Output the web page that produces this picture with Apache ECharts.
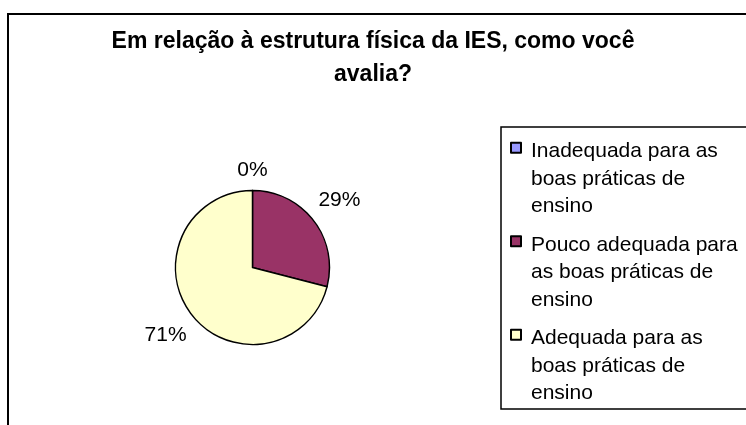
<!DOCTYPE html>
<html>
<head>
<meta charset="utf-8">
<script src="https://cdn.jsdelivr.net/npm/echarts@6/dist/echarts.min.js"></script>
<style>
html, body { margin: 0; padding: 0; background: #fff; }
#chart { width: 746px; height: 425px; }
</style>
</head>
<body>
<div id="chart"></div>
<script>
var categories = [
    'Inadequada para as boas práticas de ensino',
    'Pouco adequada para as boas práticas de ensino',
    'Adequada para as boas práticas de ensino'
];
var values = [0, 29, 71];
var sliceColors = ['#9999FF', '#993366', '#FFFFCC'];
var titleText = 'Em relação à estrutura física da IES, como você\navalia?';

var myChart = echarts.init(document.getElementById('chart'));

var pieData = [];
for (var i = 0; i < categories.length; i++) {
    pieData.push({
        name: categories[i],
        value: values[i],
        itemStyle: { color: sliceColors[i] }
    });
}

// distance between the pie edge and the percent labels
var labelGap = 10;

option = {
    backgroundColor: '#fff',
    animation: false,
    title: {
        text: titleText,
        left: 'center',
        top: 25.5,
        padding: [0, 0, 0, 10],
        textStyle: {
            color: '#000',
            fontFamily: 'Liberation Sans, Arial, sans-serif',
            fontWeight: 'bold',
            fontSize: 23,
            lineHeight: 33
        }
    },
    legend: {
        orient: 'vertical',
        left: 501,
        top: 127,
        padding: [9.75, 30, 0.75, 9],
        itemGap: 9,
        itemWidth: 15,
        itemHeight: 82.5,
        icon: 'path://M0,5h10v10h-10z M15,0 M15,82.5',
        borderColor: '#000',
        borderWidth: 1.5,
        selectedMode: false,
        data: categories,
        textStyle: {
            color: '#000',
            fontFamily: 'Liberation Sans, Arial, sans-serif',
            fontSize: 21,
            lineHeight: 27.5,
            width: 215,
            overflow: 'break'
        }
    },
    graphic: [{
        type: 'rect',
        shape: { x: 8, y: 14, width: 800, height: 500 },
        style: { fill: null, stroke: '#000', lineWidth: 2 },
        silent: true
    }],
    series: [{
        type: 'pie',
        center: [252.5, 267.5],
        radius: 77,
        startAngle: 90,
        clockwise: true,
        silent: true,
        avoidLabelOverlap: false,
        itemStyle: {
            borderColor: '#000',
            borderWidth: 1.5
        },
        label: {
            show: true,
            position: 'outside',
            formatter: '{d}%',
            color: '#000',
            fontFamily: 'Liberation Sans, Arial, sans-serif',
            fontSize: 21
        },
        labelLine: {
            show: true,
            length: 10,
            length2: 0,
            lineStyle: { opacity: 0 }
        },
        labelLayout: function (p) {
            var pts = p.labelLinePoints;
            if (!pts) {
                return {};
            }
            var ux = pts[1][0] - pts[0][0];
            var uy = pts[1][1] - pts[0][1];
            var len = Math.sqrt(ux * ux + uy * uy) || 1;
            ux /= len;
            uy /= len;
            var d = labelGap + p.labelRect.width / 2 * Math.abs(ux) + p.labelRect.height / 2 * Math.abs(uy);
            return {
                x: pts[0][0] + ux * d,
                y: pts[0][1] + uy * d,
                align: 'center',
                verticalAlign: 'middle'
            };
        },
        data: pieData
    }]
};

myChart.setOption(option);
</script>
</body>
</html>
